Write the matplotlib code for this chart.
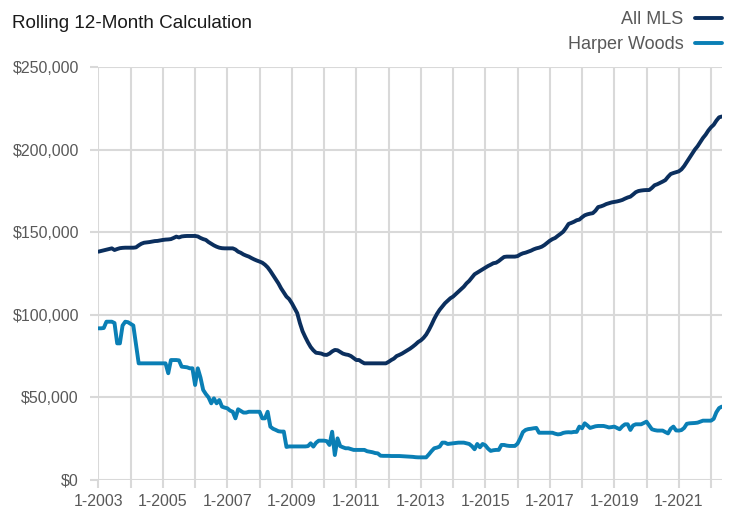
import matplotlib.pyplot as plt
import numpy as np
from matplotlib.ticker import FuncFormatter

plt.rcParams["font.family"] = ["Liberation Sans", "DejaVu Sans"]

# monthly rolling 12-month median sale price, Jan 2003 .. May 2022 (thousands of $)
all_mls = [
    138.2, 138.6, 139.0, 139.4, 139.8, 140.2, 139.2, 139.8, 140.3, 140.5, 140.6, 140.6,  # 2003
    140.6, 140.6, 140.8, 142.0, 143.0, 143.6, 143.8, 144.0, 144.3, 144.6, 144.7, 145.0,  # 2004
    145.3, 145.5, 145.6, 145.8, 146.5, 147.3, 146.8, 147.4, 147.6, 147.7, 147.7, 147.7,  # 2005
    147.7, 147.4, 146.5, 145.8, 145.3, 144.0, 143.0, 142.0, 141.2, 140.6, 140.3, 140.2,  # 2006
    140.2, 140.2, 140.2, 139.5, 138.2, 137.5, 136.5, 135.8, 135.2, 134.3, 133.5, 132.8,  # 2007
    132.2, 131.5, 130.3, 128.7, 126.5, 124.0, 121.5, 119.0, 116.0, 113.5, 111.0, 109.5,  # 2008
    107.0, 104.0, 101.0, 95.0, 90.0, 86.5, 83.3, 80.5, 78.5, 77.0, 76.8, 76.5,  # 2009
    75.8, 75.7, 76.5, 77.8, 78.7, 78.5, 77.5, 76.5, 76.0, 75.7, 75.0, 73.8,  # 2010
    72.6, 72.6, 71.5, 70.6, 70.6, 70.6, 70.6, 70.6, 70.6, 70.6, 70.6, 70.6,  # 2011
    71.5, 72.6, 73.5, 75.0, 75.7, 76.5, 77.5, 78.5, 79.5, 80.7, 82.0, 83.5,  # 2012
    84.5, 86.0, 88.0, 90.8, 94.0, 97.5, 100.5, 103.0, 105.0, 107.0, 108.5, 110.0,  # 2013
    111.0, 112.5, 114.0, 115.5, 117.0, 119.0, 120.5, 122.5, 124.5, 125.5, 126.5, 127.5,  # 2014
    128.5, 129.5, 130.3, 131.2, 131.5, 132.5, 133.8, 135.0, 135.2, 135.2, 135.2, 135.2,  # 2015
    135.5, 136.5, 137.2, 137.6, 138.2, 138.8, 139.6, 140.2, 140.6, 141.2, 142.2, 143.5,  # 2016
    144.8, 145.8, 146.5, 147.8, 149.0, 150.3, 152.5, 155.0, 155.6, 156.3, 157.2, 157.6,  # 2017
    159.0, 160.2, 160.8, 161.2, 161.5, 163.0, 165.2, 165.6, 166.2, 167.0, 167.5, 168.0,  # 2018
    168.3, 168.6, 169.0, 169.5, 170.3, 171.0, 171.5, 172.8, 174.2, 174.9, 175.2, 175.4,  # 2019
    175.5, 175.5, 176.8, 178.4, 179.0, 179.8, 180.6, 181.5, 183.5, 185.2, 185.8, 186.3,  # 2020
    186.8, 188.0, 190.0, 192.5, 195.0, 197.5, 200.0, 202.0, 204.5, 207.0, 209.0, 211.5,  # 2021
    213.5, 215.0, 217.5, 219.5, 220.0,  # 2022
]

harper_woods = [
    91.8, 91.8, 92.0, 95.8, 95.8, 95.8, 95.0, 82.7, 82.7, 93.5, 95.8, 95.5,  # 2003
    94.5, 93.5, 82.0, 70.6, 70.6, 70.6, 70.6, 70.6, 70.6, 70.6, 70.6, 70.6,  # 2004
    70.6, 70.6, 64.6, 72.6, 72.6, 72.6, 72.4, 68.6, 68.4, 68.2, 67.6, 67.6,  # 2005
    57.5, 67.6, 62.0, 54.5, 52.0, 50.0, 46.4, 49.4, 46.4, 48.4, 44.4, 43.8,  # 2006
    43.4, 42.0, 41.3, 37.3, 42.8, 41.8, 40.8, 40.8, 41.3, 41.3, 41.3, 41.3,  # 2007
    41.3, 37.3, 37.3, 41.3, 32.3, 31.0, 30.3, 29.5, 29.3, 29.3, 20.0, 20.3,  # 2008
    20.3, 20.3, 20.3, 20.3, 20.3, 20.3, 20.5, 22.2, 20.2, 22.5, 23.8, 23.8,  # 2009
    23.8, 23.5, 21.2, 29.2, 15.1, 25.2, 20.5, 19.8, 19.2, 19.2, 18.7, 18.2,  # 2010
    18.2, 18.2, 18.2, 18.2, 17.4, 17.1, 16.8, 16.3, 16.1, 14.7, 14.6, 14.6,  # 2011
    14.6, 14.5, 14.5, 14.5, 14.5, 14.4, 14.3, 14.2, 14.1, 14.0, 13.8, 13.7,  # 2012
    13.7, 13.7, 13.7, 15.5, 17.5, 19.2, 19.6, 20.2, 22.6, 22.6, 21.8, 22.0,  # 2013
    22.2, 22.4, 22.6, 22.6, 22.6, 22.2, 21.8, 20.5, 18.6, 21.8, 19.8, 21.8,  # 2014
    21.0, 19.0, 17.6, 18.0, 18.2, 18.2, 21.2, 21.2, 20.8, 20.6, 20.6, 20.6,  # 2015
    22.0, 25.2, 29.0, 30.3, 30.8, 31.0, 31.3, 31.5, 28.6, 28.6, 28.6, 28.6,  # 2016
    28.6, 28.6, 28.0, 27.6, 27.8, 28.5, 28.8, 28.9, 28.8, 29.1, 29.1, 32.3,  # 2017
    31.3, 34.3, 33.0, 31.5, 32.0, 32.5, 32.7, 32.7, 32.7, 32.3, 31.8, 32.0,  # 2018
    32.3, 31.5, 30.7, 32.5, 33.7, 33.7, 30.3, 33.0, 33.7, 33.7, 33.7, 34.5,  # 2019
    35.3, 33.0, 30.7, 30.2, 29.9, 29.9, 29.9, 29.0, 28.2, 31.0, 32.3, 30.0,  # 2020
    29.9, 30.2, 31.5, 34.0, 34.3, 34.4, 34.5, 34.7, 35.3, 35.9, 35.9, 35.9,  # 2021
    35.9, 37.0, 41.0, 43.5, 44.4,  # 2022
]

years = list(range(2003, 2023))
year_labels = [f"1-{y}" if (y - 2003) % 2 == 0 else "" for y in years]

navy = "#0b2f5e"
blue = "#0a7fb5"
grid_col = "#d9d9d9"
text_col = "#595959"

months = np.arange(len(all_mls))
mls_vals = np.array(all_mls) * 1000
hw_vals = np.array(harper_woods) * 1000

fig = plt.figure(figsize=(7.32, 5.15), dpi=100)
ax = fig.add_axes([0.1344, 0.068, 0.8516, 0.802])

ax.plot(months, mls_vals, color=navy, lw=2.8, label="All MLS", solid_capstyle="round", zorder=3)
ax.plot(months, hw_vals, color=blue, lw=2.8, label="Harper Woods", solid_capstyle="round", zorder=3)

ax.set_xlim(0, len(all_mls) - 1)
ax.set_ylim(0, 250000)
ax.set_xticks([12 * i for i in range(len(years))])
ax.set_xticklabels(year_labels)
ax.set_yticks(np.arange(0, 250001, 50000))
ax.yaxis.set_major_formatter(FuncFormatter(lambda v, p: f"${v:,.0f}"))

ax.grid(True, color=grid_col, lw=1.5)
ax.set_axisbelow(True)
for s in ax.spines.values():
    s.set_visible(False)
ax.tick_params(axis="both", colors=grid_col, width=1.5, length=6, labelcolor=text_col,
               labelsize=11.5)
ax.tick_params(axis="y", pad=8)
ax.tick_params(axis="x", pad=4)

fig.text(0.016, 0.955, "Rolling 12-Month Calculation", fontsize=13.6, color="#1a1a1a",
         ha="left", va="center")

fig.legend(loc="upper right", bbox_to_anchor=(1.008, 1.01), frameon=False, markerfirst=False,
           fontsize=13, labelcolor=text_col, handlelength=1.5, handletextpad=0.6,
           labelspacing=0.45)

fig.savefig("out.png", dpi=100)
